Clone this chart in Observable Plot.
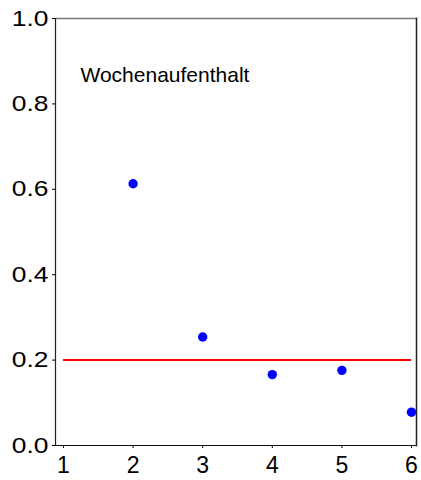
<!DOCTYPE html>
<html>
<head>
<meta charset="utf-8">
<script src="https://cdn.jsdelivr.net/npm/d3@7"></script>
<script src="https://cdn.jsdelivr.net/npm/@observablehq/plot@0.6"></script>
<style>
  html, body { margin: 0; padding: 0; background: #fff; }
  #chart { width: 421px; height: 480px; }
</style>
</head>
<body>
<div id="chart"></div>
<script>
// Data
const categories = [2, 3, 4, 5, 6];
const values = [0.613, 0.254, 0.166, 0.176, 0.078];
const referenceLevel = 0.2;
const referenceSpan = [1, 6];
const xTicks = [1, 2, 3, 4, 5, 6];
const yTicks = [0, 0.2, 0.4, 0.6, 0.8, 1.0];
const panelLabel = "Wochenaufenthalt";

const points = categories.map((c, i) => ({x: c, y: values[i]}));

const plot = Plot.plot({
  width: 421,
  height: 480,
  marginLeft: 55,
  marginRight: 5,
  marginTop: 18,
  marginBottom: 35,
  style: {fontFamily: "'Liberation Sans', Arial, sans-serif", background: "#fff", color: "#000"},
  x: {domain: [1, 6], insetLeft: 8, insetRight: 5, ticks: xTicks, tickFormat: d3.format("d")},
  y: {domain: [0, 1], ticks: yTicks, tickFormat: d3.format(".1f")},
  marks: [
    Plot.axisX({ticks: xTicks, tickFormat: d3.format("d"), tickSize: 3, tickPadding: 8, fontSize: 23, label: null, stroke: "#000"}),
    Plot.axisY({ticks: yTicks, tickFormat: d3.format(".1f"), tickSize: 3, tickPadding: 4, fontSize: 22, label: null, stroke: "#000"}),
    Plot.frame({anchor: "top", stroke: "#777", strokeWidth: 1.5}),
    Plot.frame({anchor: "right", stroke: "#222", strokeWidth: 1.5}),
    Plot.frame({anchor: "left", stroke: "#222", strokeWidth: 1.2}),
    Plot.frame({anchor: "bottom", stroke: "#111", strokeWidth: 1.2}),
    Plot.ruleY([referenceLevel], {x1: referenceSpan[0], x2: referenceSpan[1], stroke: "#ff0000", strokeWidth: 2}),
    Plot.dot(points, {x: "x", y: "y", r: 4.7, fill: "#0000ff", stroke: "none"}),
    Plot.text([panelLabel], {frameAnchor: "top-left", textAnchor: "start", lineAnchor: "top", dx: 25, dy: 49, fontSize: 21, fill: "#000"})
  ]
});

// widen y tick labels to match the reference's proportions
plot.querySelectorAll('g[aria-label="y-axis tick label"] text').forEach(t => {
  const tr = t.getAttribute("transform");
  if (tr) {
    t.setAttribute("transform", tr + " scale(1.2,1)");
  } else {
    const x = t.getAttribute("x") || 0, y = t.getAttribute("y") || 0;
    t.removeAttribute("x"); t.removeAttribute("y");
    t.setAttribute("transform", `translate(${x},${y}) scale(1.2,1)`);
  }
});

document.getElementById("chart").appendChild(plot);
</script>
</body>
</html>
